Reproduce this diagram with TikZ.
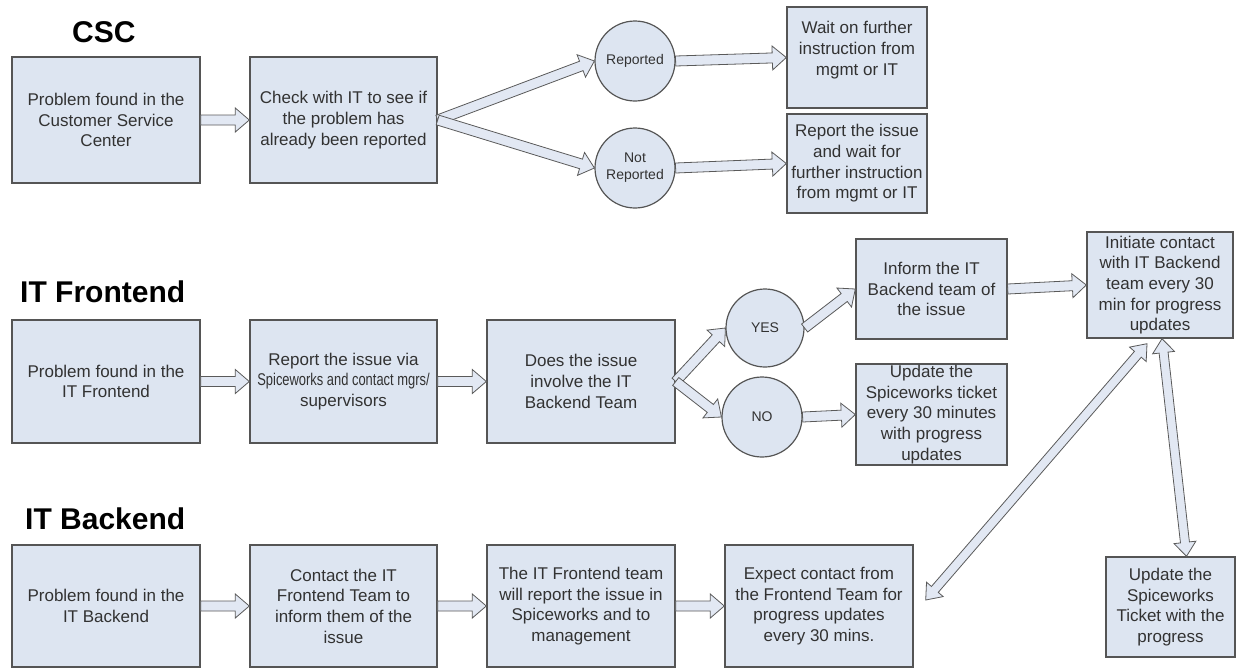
\documentclass[tikz,border=0pt]{standalone}
\usepackage{fontspec}
\setmainfont{Liberation Sans}
\usetikzlibrary{calc}

\definecolor{boxfill}{RGB}{221,229,241}
\definecolor{boxline}{RGB}{85,85,85}
\definecolor{arrfill}{RGB}{226,232,243}
\definecolor{arrline}{RGB}{90,90,90}
\definecolor{txt}{RGB}{50,50,50}

\begin{document}
\begin{tikzpicture}[x=1pt,y=-1pt,
proc/.style={draw=boxline,fill=boxfill,line width=1.4pt,text=txt,align=center,inner sep=0pt,
  minimum width=188pt,minimum height=123pt,font=\fontsize{17}{20.7}\selectfont},
dec/.style={circle,draw=boxline,fill=boxfill,line width=1.2pt,text=txt,align=center,inner sep=0pt,
  minimum size=80pt,font=\fontsize{14}{17}\selectfont},
lane/.style={anchor=base west,inner sep=0pt,font=\fontsize{30}{36}\selectfont\bfseries},
arw/.style={draw=arrline,fill=arrfill,line width=0.8pt,to path={
  ($(\tikztotarget)!14pt!(\tikztostart)$) coordinate (hd)
  ($(\tikztostart)!5pt!90:(\tikztotarget)$)
  -- ($(hd)!5pt!90:(\tikztotarget)$) -- ($(hd)!12pt!90:(\tikztotarget)$)
  -- (\tikztotarget)
  -- ($(hd)!12pt!-90:(\tikztotarget)$) -- ($(hd)!5pt!-90:(\tikztotarget)$)
  -- ($(\tikztostart)!5pt!-90:(\tikztotarget)$) -- cycle}},
arww/.style={draw=arrline,fill=arrfill,line width=0.8pt,to path={
  ($(\tikztotarget)!14pt!(\tikztostart)$) coordinate (hd)
  ($(\tikztostart)!14pt!(\tikztotarget)$) coordinate (tl)
  ($(tl)!4.5pt!90:(\tikztotarget)$)
  -- ($(hd)!4.5pt!90:(\tikztotarget)$) -- ($(hd)!11pt!90:(\tikztotarget)$)
  -- (\tikztotarget)
  -- ($(hd)!11pt!-90:(\tikztotarget)$) -- ($(hd)!4.5pt!-90:(\tikztotarget)$)
  -- ($(tl)!4.5pt!-90:(\tikztotarget)$) -- ($(tl)!11pt!-90:(\tikztotarget)$)
  -- (\tikztostart)
  -- ($(tl)!11pt!90:(\tikztotarget)$) -- cycle}}]
\useasboundingbox (0,0) rectangle (1236,670);

% CSC
\node[lane] (cscT) at (72,42) {CSC};
\node[proc,minimum height=126pt] (csc1) at (106,120) {Problem found in the\\Customer Service\\Center};
\node[proc,minimum height=126pt,minimum width=187pt] (csc2) at (343.5,120) {Check with IT to see if\\the problem has\\already been reported};
\node[dec] (rep) at (635,61) {Reported};
\node[dec] (nrep) at (635,168) {Not\\Reported};
\node[proc,minimum width=140pt,minimum height=101pt,text depth=18pt] (wait) at (857,57.5) {Wait on further\\instruction from\\mgmt or IT};
\node[proc,minimum width=140pt,minimum height=99pt] (rpt) at (857,163.5) {Report the issue\\and wait for\\further instruction\\from mgmt or IT};
\path (csc1.east) edge[arw] (csc2.west)
      (csc2.east) edge[arw] (rep.west)
      (csc2.east) edge[arw] (nrep.west)
      (rep.east) edge[arw] (wait.west)
      (nrep.east) edge[arw] (rpt.west);

% IT Frontend
\node[lane] (feT) at (20,302) {IT Frontend};
\node[proc] (fe1) at (106,381.5) {Problem found in the\\IT Frontend};
\node[proc,minimum width=187pt] (fe2) at (343.5,381.5) {Report the issue via\\\scalebox{0.76}[1]{Spiceworks and contact mgrs/}\\supervisors};
\node[proc] (fe3) at (581,381.5) {Does the issue\\involve the IT\\Backend Team};
\node[dec,minimum size=78pt] (yes) at (765,328) {YES};
\node[dec] (no) at (762,417) {NO};
\node[proc,minimum width=151pt,minimum height=100pt] (inf) at (931.5,289) {Inform the IT\\Backend team of\\the issue};
\node[proc,minimum width=151pt,minimum height=101pt] (upd) at (931.5,414.5) {Update the\\Spiceworks ticket\\every 30 minutes\\with progress\\updates};
\node[proc,minimum width=146pt,minimum height=106pt] (init) at (1160,285) {Initiate contact\\with IT Backend\\team every 30\\min for progress\\updates};
\path (fe1.east) edge[arw] (fe2.west)
      (fe2.east) edge[arw] (fe3.west)
      (fe3.east) edge[arw] (yes.west)
      (fe3.east) edge[arw] (no.west)
      (yes.east) edge[arw] (inf.west)
      (no.east) edge[arw] (upd.west)
      (inf.east) edge[arw] (init.west);

% IT Backend
\node[lane] (beT) at (25,529) {IT Backend};
\node[proc,minimum height=122pt] (be1) at (106,606) {Problem found in the\\IT Backend};
\node[proc,minimum height=122pt,minimum width=187pt] (be2) at (343.5,606) {Contact the IT\\Frontend Team to\\inform them of the\\issue};
\node[proc,minimum height=122pt] (be3) at (581,606) {The IT Frontend team\\will report the issue in\\Spiceworks and to\\management};
\node[proc,minimum height=122pt] (exp) at (819,606) {Expect contact from\\the Frontend Team for\\progress updates\\every 30 mins.};
\node[proc,minimum width=129pt,minimum height=100pt] (tick) at (1170.5,607) {Update the\\Spiceworks\\Ticket with the\\progress};
\path (be1.east) edge[arw] (be2.west)
      (be2.east) edge[arw] (be3.west)
      (be3.east) edge[arw] (exp.west);

% links between the lanes
\coordinate (d1) at ([xshift=12pt,yshift=6pt]exp.east);
\coordinate (d2) at ([xshift=-13pt,yshift=-5pt]init.south);
\coordinate (v1) at ([xshift=2pt]init.south);
\coordinate (v2) at ([xshift=16pt]tick.north);
\path (d1) edge[arww] (d2)
      (v1) edge[arww] (v2);
\end{tikzpicture}
\end{document}
